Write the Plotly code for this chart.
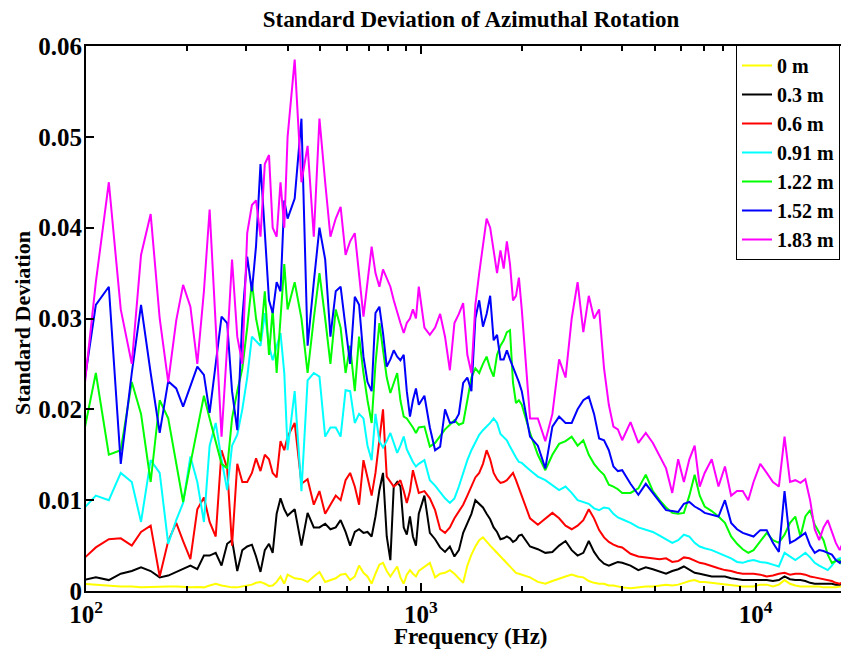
import math
import plotly.graph_objs as go

# frequency bins (Hz)
freq = [98, 107, 117, 127, 137, 146, 156, 166, 176, 186,
        195, 205, 215, 225, 234, 244, 254, 264, 273, 283,
        293, 303, 313, 322, 332, 342, 352, 361, 371, 381,
        391, 400, 420, 440, 459, 479, 498, 518, 537, 557,
        576, 596, 615, 635, 654, 674, 693, 713, 732, 752,
        771, 791, 811, 830, 850, 869, 889, 908, 928, 947,
        967, 986, 1025, 1064, 1103, 1142, 1181, 1221, 1260, 1299,
        1338, 1377, 1416, 1455, 1494, 1533, 1572, 1611, 1650, 1689,
        1729, 1768, 1807, 1846, 1885, 1924, 1963, 2002, 2119, 2236,
        2354, 2471, 2588, 2705, 2822, 2939, 3057, 3174, 3291, 3408,
        3525, 3643, 3760, 3877, 3994, 4229, 4463, 4697, 4932, 5166,
        5400, 5635, 5869, 6104, 6338, 6573, 6807, 7041, 7393, 7744,
        8096, 8447, 8799, 9150, 9502, 9854, 10322, 10791, 11260, 11729,
        12197, 12666, 13135, 13604, 14072, 14541, 15010, 15479, 15947, 16416,
        16885, 17354, 17822, 18291, 18760, 19229]

# standard deviation, in units of 1e-3
sd_0m = [0.8, 0.7, 0.6, 0.5, 0.5, 0.4, 0.45, 0.5, 0.5, 0.5,
         0.45, 0.4, 0.45, 0.4, 0.6, 0.8, 0.6, 0.5, 0.4, 0.4,
         0.5, 0.6, 0.7, 0.9, 1.0, 0.8, 0.55, 0.6, 1.0, 1.6,
         0.8, 1.8, 1.4, 1.3, 1.0, 1.6, 2.1, 1.0, 1.2, 1.4,
         1.8, 1.9, 1.2, 1.6, 2.8, 2.0, 1.6, 0.8, 1.9, 2.9,
         3.1, 2.2, 1.6, 2.2, 2.7, 1.5, 0.8, 1.8, 2.3, 1.9,
         1.6, 2.2, 2.7, 3.1, 1.5, 1.9, 2.0, 2.3, 1.9, 1.4,
         0.9, 2.8, 4.0, 4.9, 5.6, 5.9, 5.5, 5.0, 4.6, 4.2,
         3.8, 3.4, 3.1, 2.7, 2.3, 2.0, 1.9, 1.8, 1.5, 1.0,
         0.8, 1.1, 1.4, 1.6, 1.8, 1.6, 1.5, 1.1, 0.9, 0.8,
         0.8, 0.6, 0.6, 0.5, 0.4, 0.3, 0.4, 0.5, 0.5, 0.6,
         0.7, 0.6, 0.7, 0.9, 1.1, 1.2, 1.0, 1.0, 0.9, 0.8,
         0.7, 0.6, 0.5, 0.5, 0.5, 0.5, 0.7, 0.7, 0.5, 0.7,
         1.2, 0.8, 0.6, 0.5, 0.5, 0.5, 0.5, 0.5, 0.4, 0.4,
         0.4, 0.4, 0.5, 0.5, 0.5, 0.5]

sd_03m = [1.2, 1.5, 1.2, 1.9, 2.2, 2.6, 2.2, 1.5, 1.7, 2.1,
          2.4, 2.8, 2.4, 3.9, 3.9, 4.2, 2.8, 5.2, 5.6, 2.2,
          4.5, 4.9, 5.1, 3.8, 2.1, 4.5, 5.2, 4.2, 8.5, 10.2,
          9, 8.3, 9, 5, 8.6, 7, 7, 7.4, 6.8, 7,
          7.8, 6.5, 5, 6.5, 6.8, 6.4, 6.5, 6.0, 8.2, 11.1,
          13, 6, 3.4, 11.5, 12, 11.5, 7, 6.2, 8.2, 6,
          5, 8.5, 10.5, 6.4, 5.7, 4.8, 4.3, 4.9, 3.8, 4.5,
          6.4, 7.5, 8.5, 10, 9.6, 9.2, 8.5, 7.9, 7, 6.5,
          5.7, 5.8, 6.0, 5.8, 5.4, 5.6, 6.1, 6.2, 4.9, 4.6,
          4.2, 4.3, 5, 5.5, 4.5, 3.9, 4.2, 5.5, 4.3, 3.5,
          3, 2.8, 3, 3.2, 3.1, 2.8, 2.3, 2.6, 2.4, 2.1,
          1.9, 2.2, 2.4, 2.7, 2.3, 2.0, 1.9, 1.8, 1.6, 1.6,
          1.6, 1.4, 1.3, 1.2, 1.2, 1.2, 1.2, 1.2, 1.1, 1.2,
          1.6, 1.3, 1.2, 1.2, 1.1, 0.9, 0.8, 0.8, 0.8, 0.8,
          0.8, 0.7, 0.7, 0.8, 0.8, 0.8]

sd_06m = [3.5, 4.8, 5.7, 5.8, 5, 6.5, 7.2, 1.6, 5.5, 7.5,
          5.5, 3.5, 9, 10.3, 7.6, 6, 15.5, 13.5, 5, 14,
          12, 12, 13, 14.6, 13.2, 15, 14.5, 13, 12.5, 16.5,
          15.5, 17, 18.5, 11.8, 12.3, 9.5, 11, 8.5, 9.5, 10.5,
          10, 12.2, 13, 11.5, 9.5, 14.4, 12.5, 10.5, 13, 17,
          20, 12.6, 12, 11.5, 11.8, 12.2, 11, 9.7, 11, 13.3,
          12, 10.8, 11, 10.2, 8.9, 6.8, 6.4, 7, 8, 8.7,
          9.5, 10.5, 11.5, 12.5, 13, 14, 15.5, 14.5, 13, 12.3,
          11.9, 12, 12.2, 12.6, 13, 12.2, 11.3, 10.5, 8, 7.3,
          8, 8.6, 8, 7.2, 6.8, 7.2, 7.8, 9, 8, 6.7,
          5.9, 5.4, 5.1, 4.9, 4.8, 4.1, 3.8, 3.7, 3.6, 3.5,
          3.6, 3.2, 3.3, 3.7, 3.6, 3.3, 3.1, 3.0, 2.7, 2.5,
          2.3, 2.2, 2.0, 1.9, 1.9, 1.9, 1.8, 1.6, 1.7, 1.9,
          2.0, 1.8, 1.9, 1.9, 1.8, 1.6, 1.5, 1.4, 1.3, 1.2,
          1.1, 0.9, 0.8, 1.0, 1.2, 1.2]

sd_091m = [9, 10.5, 10, 13, 12, 7.6, 14.4, 13, 5.2, 7.8,
           9.7, 14.8, 12, 7.6, 16, 18.5, 14.5, 11.1, 16, 17.2,
           20, 23.5, 28, 27.5, 27, 30.6, 27, 25.4, 27, 28.4,
           24, 15.5, 22, 11, 23.2, 24, 23.6, 17, 18, 18,
           17, 22.1, 22, 18.5, 19.5, 19, 16, 14.4, 19.5, 16.5,
           15.8, 16.5, 17.4, 16.2, 15.2, 16, 17, 15.6, 14.8, 14.2,
           13.7, 14, 14.4, 12.2, 11.6, 10.9, 10.2, 9.7, 10.2, 11.5,
           13, 14.4, 15.5, 16.4, 17.2, 17.7, 18.1, 18.5, 19, 18.5,
           17.3, 16.9, 16.6, 15.9, 15.2, 14.7, 14.2, 14.1, 13.3, 12.6,
           12.2, 11.6, 11.1, 11.5, 10.8, 10, 9.8, 9.6, 9.1, 8.9,
           9.2, 9.1, 8.5, 8.1, 7.9, 7.5, 7, 6.7, 6.5, 6.1,
           5.7, 5.3, 5.6, 6.2, 6, 5.3, 4.9, 4.7, 4.5, 4.2,
           3.9, 3.6, 3.2, 3.1, 3.3, 3.4, 3.2, 3.1, 2.9, 2.7,
           4.2, 3.8, 3.4, 3.8, 4.2, 3.7, 3.1, 2.8, 2.5, 2.3,
           2.8, 3.4, 3.6, 3.7, 3.8, 3.6]

sd_122m = [17, 24, 15, 15.5, 23, 19.5, 12, 21, 19, 14,
           9.8, 14, 18, 21.5, 19, 16.6, 14, 13.5, 19, 22,
           24.5, 29, 34, 30, 27.5, 33, 26, 31, 24, 30,
           36, 31, 34, 30, 24, 30, 35, 30, 25, 31,
           29, 24, 27, 22, 28, 24, 21, 18.5, 25, 29.5,
           26.5, 23.5, 21.8, 23, 24, 21, 19.2, 19, 18.5, 18,
           17.4, 18, 18.1, 15.9, 16.3, 17, 17.8, 18.3, 18.8, 18.3,
           18.5, 21, 23.5, 24.5, 24, 25, 25.8, 24.5, 23.6, 26,
           27, 27.6, 28.5, 28.7, 22.9, 20.7, 21, 20.5, 17.4, 15,
           13.3, 15, 16.2, 16.5, 17, 16, 16.6, 15, 14, 13.3,
           12.8, 11.7, 11.5, 11.2, 10.8, 10.8, 11.3, 12.8, 11, 10,
           9.2, 8.6, 8.5, 8.6, 10.5, 12.8, 10.5, 9.3, 8.8, 8.2,
           7.5, 6, 5.2, 4.6, 4.2, 4.5, 5.5, 6.4, 5.6, 5.3,
           6.2, 7.5, 8.2, 6.0, 8.2, 8.9, 7.3, 6.5, 5.6, 4,
           3.1, 3.3, 3.4, 2.5, 1.9, 2]

sd_152m = [22, 31.5, 33.5, 14, 24, 31.5, 24, 17.4, 23.1, 22.3,
           20.3, 22.5, 24.7, 23.8, 19.6, 25, 30.2, 29.5, 22, 17.7,
           30, 36.8, 33, 38, 47, 39.5, 32, 30.6, 34, 33,
           43, 41, 43.2, 52, 27, 34, 40, 36.5, 28, 33,
           33.5, 29, 25, 32.4, 31.5, 25.8, 23, 22, 30.6, 31.3,
           28.4, 24.7, 25.5, 26.5, 25.8, 25.4, 26, 22, 19.2, 21,
           22.3, 20.5, 21.5, 18, 15.5, 15.9, 20, 18.5, 18.6, 19.5,
           22.9, 23.5, 22, 30, 32, 29.1, 30.5, 32.5, 27.6, 28.2,
           25.5, 25.5, 26.5, 25.5, 24.7, 23.8, 23, 22, 17, 16,
           13.5, 18.1, 19.2, 18.5, 18.5, 20, 21, 21.4, 19.5, 16.8,
           16.6, 15.5, 13.7, 13.2, 13.3, 11.8, 10.6, 11.8, 10.8, 9.8,
           8.9, 8.8, 8.7, 9.6, 9.8, 9.3, 9.0, 8.6, 8.4, 8.2,
           10, 7.5, 6.8, 6.4, 6.2, 6.0, 6.7, 6.7, 5.3, 4.3,
           11, 5.3, 5.6, 6.0, 6.4, 5, 4.2, 4.5, 4.4, 4.2,
           4.0, 3.4, 3.1, 3.5, 3.8, 3.8]

sd_183m = [21, 34, 45, 31, 25, 37, 41.5, 30, 23, 29.8,
           33.7, 31.3, 25, 33, 42, 30, 17, 27, 36.5, 28,
           25, 39.4, 42.5, 43, 39, 47, 48, 40, 39, 45,
           40, 50, 58.5, 45, 49, 39, 52, 45, 39, 41,
           42.3, 37, 38.5, 39.4, 35, 30.2, 34, 37.9, 35, 33.5,
           35.4, 34.5, 33.5, 32, 30.6, 29.5, 28.4, 29.5, 30, 31,
           30, 33.5, 29, 28.2, 29, 30.5, 28, 24.3, 29.5, 30.5,
           31.7, 26, 24, 31.5, 35, 38, 41, 40, 37.5, 35,
           37.5, 35.5, 38.5, 36, 32, 32.5, 34.5, 31, 19, 19,
           16.5, 19.5, 25.5, 23.5, 30, 34, 28.5, 32.5, 30, 31,
           24.5, 20.5, 18.1, 17.8, 16.6, 18.6, 16.3, 17.4, 16.3, 14.8,
           13.5, 10.8, 14.5, 12, 14.5, 16, 11.5, 13, 14.5, 11.5,
           13.7, 10.5, 11, 11, 10, 12, 14, 13, 12, 11.5,
           17, 12, 12.2, 11.9, 12.3, 10, 6.8, 5.6, 7, 7.8,
           6.5, 5.3, 4.5, 5.5, 6.7, 6.5]

names = ['0 m', '0.3 m', '0.6 m', '0.91 m', '1.22 m', '1.52 m', '1.83 m']
series = [sd_0m, sd_03m, sd_06m, sd_091m, sd_122m, sd_152m, sd_183m]
colors = ['#ffff00', '#000000', '#ff0000', '#00ffff', '#00ff00', '#0000ff', '#ff00ff']

for s in series:
    assert len(s) == len(freq), len(s)

all_data = []
for name, vals, col in zip(names, series, colors):
    data = go.Scatter(
        x=freq,
        y=[v / 1000 for v in vals],
        name='<b>' + name + '</b>',
        mode='lines',
        line=dict(color=col, width=2)
    )
    all_data.append(data)

minor_ticks = [200, 300, 400, 500, 600, 700, 800, 900,
               2000, 3000, 4000, 5000, 6000, 7000, 8000, 9000]
y_ticks = [0, 0.01, 0.02, 0.03, 0.04, 0.05, 0.06]

# the page body has an 8px margin, so the figure is 8px smaller and margins shifted
W, H = 841, 644
L, T = 78, 38
B = H - T - 545

layout = dict(
    width=W, height=H,
    margin=dict(l=L, r=0, t=T, b=B, autoexpand=False),
    paper_bgcolor='white', plot_bgcolor='white',
    font=dict(family='Liberation Serif', color='black'),
    title=dict(text='<b>Standard Deviation of Azimuthal Rotation</b>',
               xref='container', x=463 / W, xanchor='center',
               yref='container', y=1 - 11 / H, yanchor='middle',
               font=dict(size=23)),
    xaxis=dict(type='log', range=[2, math.log10(19000)],
               tickvals=[100, 1000, 10000],
               ticktext=['<b>10<sup>2</sup></b>', '<b>10<sup>3</sup></b>', '<b>10<sup>4</sup></b>'],
               ticks='inside', ticklen=8, tickwidth=1.5, tickcolor='black',
               minor=dict(tickvals=minor_ticks, ticks='inside', ticklen=5,
                          tickwidth=1.5, tickcolor='black', showgrid=False),
               showline=True, linecolor='black', linewidth=2, mirror='ticks',
               showgrid=False, zeroline=False,
               tickfont=dict(size=25)),
    yaxis=dict(range=[0, 0.06], tickvals=y_ticks,
               ticktext=['<b>0</b>'] + ['<b>%.2f</b>' % t for t in y_ticks[1:]],
               ticks='inside', ticklen=8, tickwidth=1.5, tickcolor='black',
               showline=True, linecolor='black', linewidth=2,
               showgrid=False, zeroline=False, ticklabelstandoff=-3,
               tickfont=dict(size=25)),
    annotations=[
        dict(text='<b>Frequency (Hz)</b>', xref='paper', yref='paper',
             x=(471 - 86) / 763, y=(591 - 636) / 545, xanchor='center', yanchor='middle',
             showarrow=False, font=dict(size=23)),
        dict(text='<b>Standard Deviation</b>', xref='paper', yref='paper',
             x=(22 - 86) / 763, y=(591 - 323) / 545, xanchor='center', yanchor='middle',
             textangle=-90, showarrow=False, font=dict(size=22)),
    ],
    legend=dict(x=(736 - 86) / 763, y=(591 - 45) / 545, xanchor='left', yanchor='top',
                bgcolor='white', bordercolor='black', borderwidth=1,
                font=dict(size=20), itemwidth=30, tracegroupgap=0),
    showlegend=True,
)

fig = go.Figure(data=all_data, layout=layout)
fig.write_html('out.html')
